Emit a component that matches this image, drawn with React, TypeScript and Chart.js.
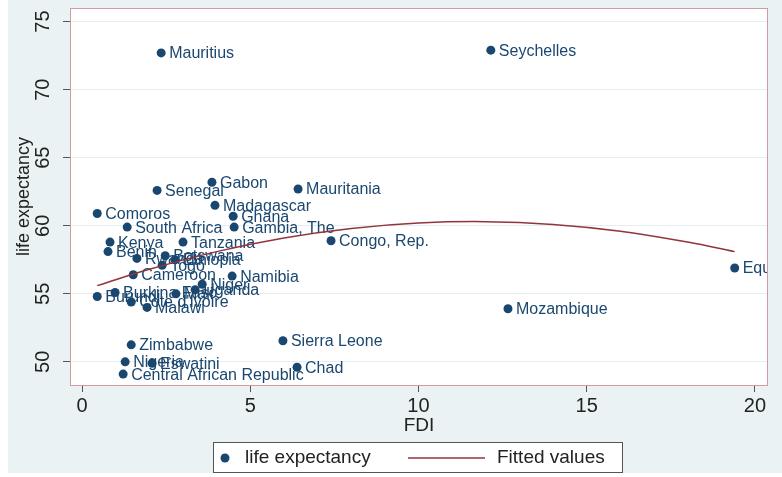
import React, { useEffect, useRef } from 'react';
import { Chart, registerables } from 'chart.js';

Chart.register(...registerables);

const countries = [
  'Mauritius', 'Seychelles', 'Gabon', 'Senegal', 'Mauritania', 'Madagascar', 'Ghana',
  'Comoros', 'South Africa', 'Gambia, The', 'Kenya', 'Tanzania', 'Congo, Rep.', 'Benin',
  'Rwanda', 'Botswana', 'Ethiopia', 'Togo', 'Cameroon', 'Namibia', 'Niger', 'Uganda',
  'Mali', 'Burkina Faso', 'Burundi', "Cote d'Ivoire", 'Malawi', 'Mozambique',
  'Equatorial Guinea', 'Zimbabwe', 'Sierra Leone', 'Nigeria', 'Eswatini', 'Chad',
  'Central African Republic',
];
const fdi = [
  2.35, 12.15, 3.86, 2.23, 6.42, 3.95, 4.49,
  0.45, 1.34, 4.52, 0.83, 3.0, 7.4, 0.77,
  1.63, 2.47, 2.76, 2.38, 1.52, 4.46, 3.57, 3.36,
  2.79, 0.98, 0.45, 1.46, 1.93, 12.66,
  19.4, 1.46, 5.97, 1.28, 2.08, 6.39,
  1.22,
];
const lifeExpectancy = [
  72.7, 72.9, 63.2, 62.6, 62.7, 61.5, 60.7,
  60.9, 59.9, 59.9, 58.8, 58.8, 58.9, 58.1,
  57.6, 57.8, 57.5, 57.1, 56.4, 56.3, 55.7, 55.3,
  55.0, 55.1, 54.8, 54.4, 54.0, 53.9,
  56.9, 51.25, 51.55, 50.0, 49.9, 49.6,
  49.1,
];
const fitFdi = [0.45, 2, 4, 6, 8, 10, 12, 14, 16, 18, 19.4];
const fitLife = [55.6, 56.8, 58.1, 59.1, 59.8, 60.2, 60.3, 60.1, 59.6, 58.8, 58.1];
const xTicks = [0, 5, 10, 15, 20];
const yTicks = [50, 55, 60, 65, 70, 75];

const NAVY = '#1a476f';
const MAROON = '#90353b';
const BG = '#eaf2f3';
const FONT = '"Liberation Sans", Arial, sans-serif';

const stataPlugin = {
  id: 'stata',
  beforeDraw(chart: any) {
    const { ctx, chartArea: a, width, height } = chart;
    ctx.save();
    ctx.fillStyle = '#ffffff';
    ctx.fillRect(0, 0, width, height);
    ctx.fillStyle = BG;
    ctx.fillRect(8, 0, width - 8, 473);
    ctx.fillStyle = '#ffffff';
    ctx.fillRect(a.left, a.top, a.right - a.left, a.bottom - a.top);
    ctx.restore();
  },
  afterDatasetDraw(chart: any, args: any) {
    if (args.index !== 1) return;
    const { ctx, chartArea: a } = chart;
    const meta = chart.getDatasetMeta(1);
    ctx.save();
    ctx.beginPath();
    ctx.rect(a.left, a.top, a.right - a.left, a.bottom - a.top);
    ctx.clip();
    ctx.font = `16px ${FONT}`;
    ctx.fillStyle = NAVY;
    ctx.textBaseline = 'middle';
    ctx.textAlign = 'left';
    meta.data.forEach((pt: any, i: number) => {
      ctx.fillText(countries[i], pt.x + 8, pt.y + 1);
    });
    ctx.restore();
  },
  afterDraw(chart: any) {
    const { ctx, chartArea: a } = chart;
    const yScale = chart.scales.y;
    ctx.save();
    // plot border
    ctx.strokeStyle = '#d49aa1';
    ctx.lineWidth = 1;
    ctx.strokeRect(a.left + 0.5, a.top + 0.5, a.right - a.left - 1, a.bottom - a.top);
    // y tick labels (rotated)
    ctx.fillStyle = '#222';
    ctx.font = `20px ${FONT}`;
    ctx.textAlign = 'center';
    ctx.textBaseline = 'middle';
    yTicks.forEach((v) => {
      const y = yScale.getPixelForValue(v);
      ctx.save();
      ctx.translate(43, y);
      ctx.rotate(-Math.PI / 2);
      ctx.fillText(String(v), 0, 0);
      ctx.restore();
    });
    // y title
    ctx.font = `18px ${FONT}`;
    ctx.save();
    ctx.translate(24, (a.top + a.bottom) / 2);
    ctx.rotate(-Math.PI / 2);
    ctx.fillText('life expectancy', 0, 0);
    ctx.restore();
    // x title
    ctx.font = `19px ${FONT}`;
    ctx.fillText('FDI', (a.left + a.right) / 2, 426);
    // legend
    ctx.fillStyle = '#ffffff';
    ctx.fillRect(213, 442, 410, 31);
    ctx.strokeStyle = '#555';
    ctx.strokeRect(213.5, 442.5, 409, 30);
    ctx.fillStyle = NAVY;
    ctx.beginPath();
    ctx.arc(225, 458, 4.5, 0, Math.PI * 2);
    ctx.fill();
    ctx.fillStyle = '#222';
    ctx.font = `19px ${FONT}`;
    ctx.textAlign = 'left';
    ctx.fillText('life expectancy', 245, 458);
    ctx.strokeStyle = MAROON;
    ctx.lineWidth = 1.5;
    ctx.beginPath();
    ctx.moveTo(408, 458);
    ctx.lineTo(485, 458);
    ctx.stroke();
    ctx.fillText('Fitted values', 497, 458);
    ctx.restore();
  },
};

export default function App() {
  const ref = useRef<HTMLCanvasElement>(null);
  useEffect(() => {
    if (!ref.current) return;
    const chart = new Chart(ref.current, {
      type: 'scatter',
      data: {
        datasets: [
          {
            label: 'Fitted values',
            data: fitFdi.map((x, i) => ({ x, y: fitLife[i] })),
            showLine: true,
            borderColor: MAROON,
            borderWidth: 1.5,
            pointRadius: 0,
            tension: 0.4,
            fill: false,
          },
          {
            label: 'life expectancy',
            data: fdi.map((x, i) => ({ x, y: lifeExpectancy[i] })),
            backgroundColor: NAVY,
            borderWidth: 0,
            pointRadius: 4.5,
          },
        ],
      },
      options: {
        responsive: false,
        animation: false,
        devicePixelRatio: 1,
        layout: { padding: { left: 0, right: 14, top: 8, bottom: 0 } },
        plugins: { legend: { display: false }, tooltip: { enabled: false } },
        scales: {
          x: {
            type: 'linear',
            min: -0.36,
            max: 20.39,
            afterBuildTicks: (s: any) => { s.ticks = xTicks.map((v) => ({ value: v })); },
            afterFit: (s: any) => { s.height = 92; },
            grid: { color: 'rgba(0,0,0,0)', drawTicks: true, tickLength: 7, tickColor: '#555' },
            border: { display: false },
            ticks: { color: '#222', font: { size: 20, family: FONT }, padding: 2, maxRotation: 0 },
          },
          y: {
            type: 'linear',
            min: 48.3,
            max: 76.0,
            afterBuildTicks: (s: any) => { s.ticks = yTicks.map((v) => ({ value: v })); },
            afterFit: (s: any) => { s.width = 70; },
            grid: { color: '#e4edef', lineWidth: 1, drawTicks: true, tickLength: 7, tickColor: '#555' },
            border: { display: false },
            ticks: { display: false },
          },
        },
      },
      plugins: [stataPlugin],
    });
    return () => chart.destroy();
  }, []);
  return (
    <div style={{ position: 'absolute', left: 0, top: 0, width: 782, height: 477 }}>
      <canvas ref={ref} width={782} height={477} style={{ display: 'block', width: 782, height: 477 }} />
    </div>
  );
}
